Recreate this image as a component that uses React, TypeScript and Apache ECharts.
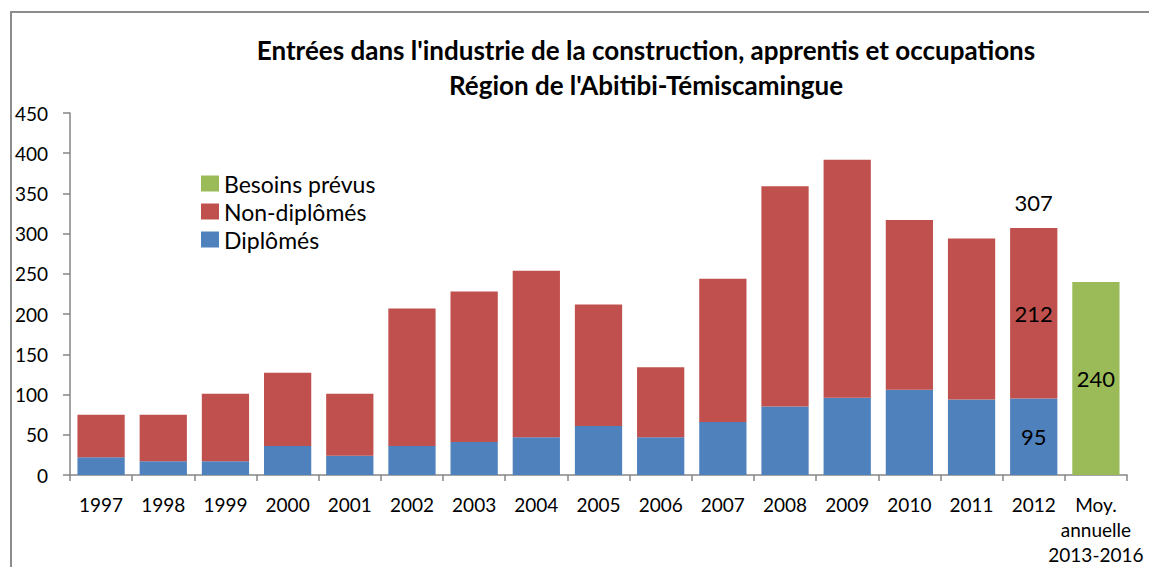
import React, { useEffect, useRef } from "react";
import * as echarts from "echarts";

const categories = ["1997", "1998", "1999", "2000", "2001", "2002", "2003", "2004", "2005", "2006", "2007", "2008", "2009", "2010", "2011", "2012", "Moy.\nannuelle\n2013-2016"];
const diplomes = [22, 17, 17, 36, 24, 36, 41, 47, 61, 47, 66, 85, 96, 106, 94, 95, null];
const nonDiplomes = [53, 58, 84, 91, 77, 171, 187, 207, 151, 87, 178, 274, 296, 211, 200, 212, null];
const besoins = [null, null, null, null, null, null, null, null, null, null, null, null, null, null, null, null, 240];
const labelledIndex = 15; // 2012
const titleLines = ["Entrées dans l'industrie de la construction, apprentis et occupations", "Région de l'Abitibi-Témiscamingue"];

const FONT = "Lato, 'Open Sans', sans-serif";

export default function App() {
  const ref = useRef<HTMLDivElement>(null);
  useEffect(() => {
    if (!ref.current) return;
    const chart = echarts.init(ref.current, null, { renderer: "svg" });
    const totalLabelData = categories.map((_, i) => (i === labelledIndex ? 0 : null));
    const labelFor = (idx: number) => ({
      show: true,
      position: "inside",
      fontSize: 22,
      fontFamily: FONT,
      color: "#000",
      formatter: (p: any) => (p.dataIndex === idx ? String(p.value) : ""),
    });
    chart.setOption({
      animation: false,
      textStyle: { fontFamily: FONT },
      grid: { left: 70, right: 22, top: 113, bottom: 88 },
      graphic: [
        {
          type: "rect",
          shape: { x: 11, y: 12, width: 1300, height: 700 },
          style: { fill: "none", stroke: "#8c8c8c", lineWidth: 2 },
          silent: true,
        },
        {
          type: "text",
          x: 646,
          y: 50,
          style: { text: titleLines[0], textAlign: "center", textVerticalAlign: "middle", font: `bold 26px ${FONT}`, fill: "#000" },
        },
        {
          type: "text",
          x: 646,
          y: 85,
          style: { text: titleLines[1], textAlign: "center", textVerticalAlign: "middle", font: `bold 26px ${FONT}`, fill: "#000" },
        },
      ],
      legend: {
        orient: "vertical",
        left: 201,
        top: 172,
        padding: 0,
        itemWidth: 18,
        itemHeight: 16,
        itemGap: 5,
        icon: "rect",
        data: ["Besoins prévus", "Non-diplômés", "Diplômés"],
        textStyle: { fontSize: 23, color: "#000", fontFamily: FONT },
      },
      xAxis: {
        type: "category",
        data: categories,
        axisLine: { lineStyle: { color: "#868686", width: 1.5 } },
        axisTick: { show: true, alignWithLabel: false, length: 6, lineStyle: { color: "#868686", width: 1.5 } },
        axisLabel: { color: "#000", fontSize: 19, lineHeight: 25, margin: 17, interval: 0, fontFamily: FONT },
      },
      yAxis: {
        type: "value",
        min: 0,
        max: 450,
        interval: 50,
        axisLine: { show: true, lineStyle: { color: "#868686", width: 1.5 } },
        axisTick: { show: true, length: 7, lineStyle: { color: "#868686", width: 1.5 } },
        splitLine: { show: false },
        axisLabel: { color: "#000", fontSize: 19, margin: 22, fontFamily: FONT },
      },
      series: [
        {
          name: "Diplômés",
          type: "bar",
          stack: "s",
          data: diplomes,
          barCategoryGap: "24%",
          itemStyle: { color: "#4F81BD" },
          label: labelFor(labelledIndex),
        },
        {
          name: "Non-diplômés",
          type: "bar",
          stack: "s",
          data: nonDiplomes,
          itemStyle: { color: "#C0504D" },
          label: labelFor(labelledIndex),
        },
        {
          name: "Besoins prévus",
          type: "bar",
          stack: "s",
          data: besoins,
          itemStyle: { color: "#9BBB59" },
          label: labelFor(16),
        },
        {
          name: "Total",
          type: "bar",
          stack: "s",
          data: totalLabelData,
          itemStyle: { color: "transparent" },
          label: {
            show: true,
            position: "top",
            distance: 15,
            fontSize: 22,
            fontFamily: FONT,
            color: "#000",
            formatter: (p: any) =>
              p.dataIndex === labelledIndex
                ? String((diplomes[labelledIndex] as number) + (nonDiplomes[labelledIndex] as number))
                : "",
          },
        },
      ],
    });
    return () => chart.dispose();
  }, []);
  return <div ref={ref} style={{ position: "absolute", left: 0, top: 0, width: 1149, height: 567 }} />;
}
